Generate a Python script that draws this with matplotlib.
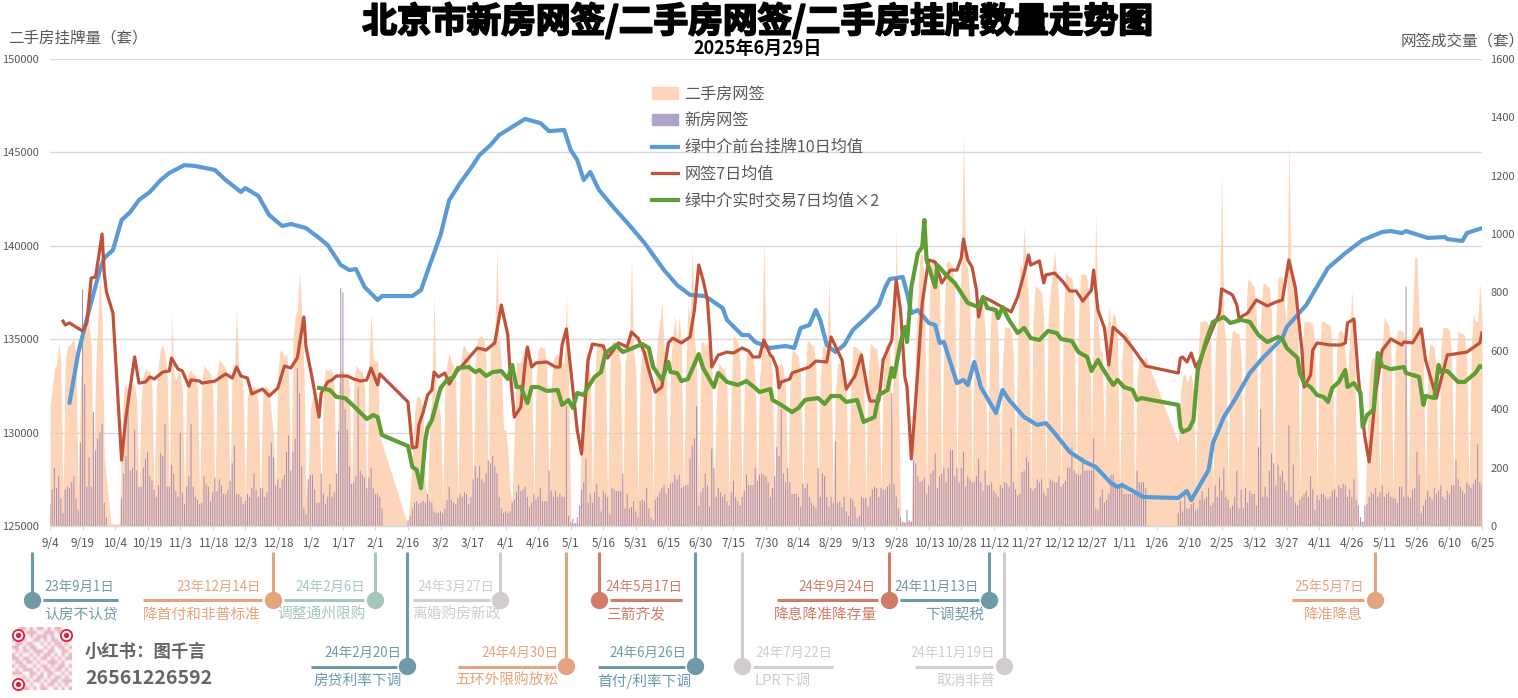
import numpy as np
import matplotlib
matplotlib.use("Agg")
import matplotlib.pyplot as plt
import matplotlib.patheffects as pe
from matplotlib.lines import Line2D
from matplotlib.patches import Patch

plt.rcParams['font.family'] = ['Noto Sans CJK SC', 'DejaVu Sans']

N = None

tick_labels = ['9/4', '9/19', '10/4', '10/19', '11/3', '11/18', '12/3', '12/18', '1/2', '1/17', '2/1', '2/16',
               '3/2', '3/17', '4/1', '4/16', '5/1', '5/16', '5/31', '6/15', '6/30', '7/15', '7/30', '8/14', '8/29',
               '9/13', '9/28', '10/13', '10/28', '11/12', '11/27', '12/12', '12/27', '1/11', '1/26', '2/10', '2/25',
               '3/12', '3/27', '4/11', '4/26', '5/11', '5/26', '6/10', '6/25']

# daily second-hand signings, one row per week (sets, right axis), None = no data
second_hand = [
    410, 470, 540, 550, 630, 560, 90,
    560, 615, 620, 630, 640, 580, 100,
    480, 620, 680, 700, 690, 620, 110,
    520, 700, 870, 700, 240, N, N,
    10, 8, 8, 8, 8, 300, 470,
    490, 430, 470, 490, 480, 430, 100,
    430, 520, 540, 530, 530, 470, 100,
    470, 560, 610, 620, 590, 520, 110,
    735, 530, 500, 530, 520, 460, 100,
    480, 530, 535, 520, 520, 470, 90,
    500, 550, 540, 530, 520, 470, 90,
    520, 570, 560, 550, 540, 480, 100,
    560, 540, 750, 520, 530, 470, 100,
    440, 480, 470, 480, 470, 420, 80,
    440, 480, 475, 470, 380, 310, 120,
    520, 600, 600, 580, 590, 520, 110,
    640, 720, 740, 870, 740, 560, 90,
    180, 400, 440, 445, 430, 390, 90,
    470, 540, 530, 540, 530, 470, 90,
    480, 535, 530, 520, 530, 470, 90,
    500, 550, 540, 530, 530, 470, 90,
    560, 730, 570, 560, 570, 308, N,
    N, N, N, N, N, N, N,
    N, N, N, N, 0, 110, 250,
    380, 445, 445, 430, 400, 130, 90,
    380, 430, 790, 430, 420, 370, 90,
    470, 560, 595, 560, 550, 490, 90,
    520, 610, 620, 600, 590, 530, 100,
    560, 640, 650, 650, 640, 570, 100,
    620, 640, 660, 950, 640, 560, 330,
    330, 260, 130, 80, 330, 560, 560,
    560, 590, 610, 616, 616, 540, 100,
    500, 600, 616, 610, 610, 540, 100,
    480, 570, 590, 585, 580, 560, 560,
    790, 500, 15, 10, 10, 10, 10,
    380, 480, 595, 590, 520, 100, 500,
    630, 620, 630, 610, 540, 100, 540,
    635, 630, 630, 620, 550, 100, 560,
    600, 605, 920, 600, 530, 100, 520,
    615, 610, 610, 600, 530, 100, 520,
    640, 700, 765, 620, 550, 100, 560,
    650, 720, 640, 720, 620, 100, 520,
    765, 700, 950, 640, 560, 100, 630,
    630, 620, 630, 600, 530, 100, 400,
    560, 550, 540, 540, 480, 100, 480,
    660, 640, 630, 560, 100, 480, 595,
    595, 590, 580, 510, 100, 500, 590,
    980, 590, 590, 580, 510, 100, 450,
    550, 557, 540, 480, 100, 480, 600,
    600, 590, 580, 510, 100, 500, 637,
    630, 620, 620, 540, 100, 500, 615,
    620, 600, 842, 540, 100, 460, 557,
    557, 545, 540, 480, 100, 480, 615,
    615, 610, 600, 600, 530, 100, 500,
    625, 620, 610, 610, 540, 120, 500,
    620, 620, 610, 350, 600, 1025, 500,
    15, 15, 15, 15, 15, 15, 400,
    620, 800, 930, 934, 820, 120, 700,
    910, 920, 910, 900, 800, 120, 700,
    900, 910, 900, 890, 800, 120, 750,
    900, 1345, 900, 880, 780, 120, 650,
    785, 770, 780, 760, 670, 120, 600,
    763, 750, 740, 650, 120, 560, 683,
    680, 683, 670, 590, 120, 650, 900,
    880, 1025, 880, 770, 120, 700, 820,
    820, 810, 800, 710, 120, 700, 800,
    870, 940, 860, 760, 120, 700, 865,
    860, 850, 850, 750, 120, 700, 865,
    860, 865, 850, 750, 300, 700, 1070,
    700, 600, 600, 250, 650, 750, 680,
    728, 720, 640, 120, 560, 670, 660,
    650, 640, 570, 110, 500, 580, 575,
    570, 580, N, N, N, N, N,
    N, N, N, N, N, N, N,
    N, N, 283, 450, 510, 523, 490,
    510, 520, 460, 120, 560, 700, 700,
    705, 700, 690, 610, 120, 600, 705,
    700, 1220, 700, 620, 120, 600, 670,
    670, 660, 660, 580, 120, 700, 843,
    843, 830, 820, 720, 120, 700, 830,
    830, 820, 820, 720, 120, 700, 855,
    855, 850, 750, 700, 1333, 850, 850,
    840, 740, 120, 600, 705, 700, 700,
    700, 690, 610, 120, 600, 700, 700,
    695, 690, 690, 610, 120, 600, 670,
    670, 660, 580, 500, 650, 808, 650,
    300, 15, 15, 15, 15, 300, 500,
    570, 580, 560, 490, 120, 620, 717,
    700, 690, 610, 120, 600, 670, 670,
    670, 660, 580, 120, 600, 720, 920,
    922, 700, 660, 580, 120, 560, 625,
    620, 610, 540, 120, 600, 683, 680,
    680, 670, 590, 120, 580, 670, 660,
    660, 650, 570, 120, 600, 730, 700,
    700, 831, 700,
]

# daily new-home signings, same layout
new_home = [
    75, 125, 200, 130, 170, 95, 45,
    125, 135, 130, 150, 170, 95, 55,
    285, 810, 485, 135, 235, 135, 390,
    260, 300, 320, 350, 80, 30, N,
    N, N, N, N, N, 95, 180,
    240, 470, 190, 200, 330, 190, 135,
    135, 200, 230, 255, 170, 155, 125,
    100, 140, 250, 240, 350, 135, 135,
    210, 180, 120, 100, 320, 115, 75,
    135, 170, 350, 135, 100, 90, 75,
    80, 170, 145, 135, 85, 115, 165,
    120, 160, 140, 110, 110, 125, 155,
    215, 275, 110, 110, 100, 75, 85,
    110, 100, 130, 180, 125, 100, 130,
    130, 100, 115, 240, 285, 235, 140,
    160, 130, 160, 175, 255, 310, 190,
    255, 300, 540, 455, 205, 60, 40,
    160, 175, 175, 125, 80, 80, 180,
    110, 75, 100, 145, 100, 115, 180,
    325, 815, 800, 400, 330, 205, 145,
    150, 170, 475, 190, 175, 165, 130,
    165, 200, 130, 110, 110, 100, 60,
    N, N, N, N, N, N, N,
    N, N, N, N, 20, 35, 60,
    80, 85, 75, 80, 85, 80, 110,
    85, 80, 50, 45, 45, 50, 45,
    60, 90, 135, 90, 80, 75, 95,
    110, 100, 115, 110, 75, 100, 160,
    205, 165, 205, 160, 150, 180, 225,
    215, 240, 205, 180, 100, 60, 45,
    50, 45, 50, 80, 90, 115, 140,
    120, 125, 135, 100, 65, 80, 110,
    90, 100, 130, 85, 85, 85, 190,
    120, 100, 120, 100, 110, 100, 100,
    410, 35, 15, 25, 10, 30, 70,
    125, 150, 230, 80, 110, 80, 115,
    145, 100, 50, 120, 110, 100, 40,
    130, 125, 120, 120, 120, 180, 60,
    110, 60, 65, 85, 50, 30, 85,
    90, 85, 130, 60, 30, 20, 90,
    100, 115, 130, 140, 110, 130, 145,
    150, 175, 160, 175, 130, 135, 140,
    140, 230, 275, 300, 410, 70, 115,
    130, 180, 140, 65, 265, 200, 100,
    130, 115, 100, 110, 85, 70, 115,
    155, 100, 85, 70, 100, 120, 175,
    140, 140, 140, 200, 155, 175, 180,
    175, 170, 150, 100, 130, 170, 270,
    240, 400, 180, 150, 200, 150, 110,
    110, 110, 100, 65, 145, 130, 145,
    100, 80, 70, 60, 200, 100, 180,
    170, 100, 65, 100, 80, 290, 80,
    85, 65, 100, 50, 35, 95, 90,
    65, 25, 35, 100, 95, 95, 65,
    100, 125, 135, 130, 100, 130, 125,
    125, 135, 145, 455, 145, 100, 60,
    30, 15, 10, 55, 20, 15, 225,
    215, 170, 150, 155, 165, 110, 140,
    180, 190, 250, 130, 170, 180, 200,
    150, 200, 260, 260, 170, 200, 150,
    200, 255, 135, 170, 160, 150, 150,
    170, 230, 150, 120, 190, 140, 140,
    150, 120, 110, 100, 140, 130, 150,
    145, 135, 335, 150, 125, 105, 110,
    185, 190, 235, 220, 130, 120, 130,
    160, 150, 160, 115, 105, 130, 160,
    155, 150, 150, 170, 135, 145, 155,
    200, 200, 270, 190, 180, 175, 175,
    235, 190, 190, 190, 190, 300, 60,
    55, 100, 125, 80, 90, 110, 175,
    175, 150, 135, 130, 150, 110, 110,
    110, 110, 110, 110, 190, 150, 150,
    150, 130, N, N, N, N, N,
    N, N, N, N, N, N, N,
    N, N, 45, 85, 50, 125, 60,
    60, 75, 80, 55, 60, 90, 120,
    90, 100, 130, 70, 80, 140, 100,
    165, 120, 200, 100, 90, 60, 70,
    100, 190, 60, 125, 60, 130, 80,
    120, 110, 110, 70, 270, 400, 100,
    135, 100, 190, 250, 215, 140, 210,
    170, 190, 150, 120, 345, 100, 210,
    80, 70, 90, 100, 110, 120, 100,
    170, 125, 55, 105, 90, 110, 110,
    100, 90, 100, 120, 125, 100, 140,
    130, 145, 140, 100, 125, 100, 160,
    90, 70, 30, 15, 70, 75, 100,
    115, 110, 130, 100, 115, 140, 100,
    110, 115, 100, 95, 95, 80, 135,
    135, 100, 820, 100, 95, 125, 130,
    255, 175, 45, 70, 90, 120, 100,
    90, 130, 110, 120, 140, 100, 90,
    120, 110, 140, 140, 225, 160, 135,
    120, 110, 150, 140, 130, 145, 160,
    280, 150, 140,
]

# listings 10-day mean, left axis
listing_days = [9, 13, 18, 23, 25, 29, 33, 37, 41, 46, 51, 55, 62, 67, 76, 81, 88, 90, 96, 101, 107, 111, 118, 124,
                128, 134, 138, 141, 145, 151, 153, 167, 171, 175, 180, 184, 189, 194, 198, 203, 207, 213, 219, 226,
                230, 237, 240, 243, 246, 249, 253, 260, 267, 274, 283, 289, 295, 302, 310, 312, 319, 322, 325, 332,
                339, 343, 346, 350, 353, 355, 358, 362, 366, 370, 376, 382, 385, 387, 393, 395, 397, 400, 405, 408,
                410, 412, 418, 421, 423, 426, 429, 436, 439, 442, 449, 455, 459, 463, 470, 477, 482, 489, 492, 494,
                504, 520, 524, 526, 534, 536, 541, 546, 553, 559, 568, 570, 579, 589, 597, 605, 614, 618, 623, 625,
                635, 643, 644, 651, 653, 660]
listing_vals = [131580, 134260, 136560, 138700, 139350, 139770, 141380, 141810, 142450, 142880, 143520, 143900,
                144320, 144270, 144060, 143520, 142880, 143090, 142670, 141650, 141060, 141170, 140950, 140420,
                140040, 138970, 138700, 138760, 137790, 137100, 137310, 137310, 137630, 138970, 140580, 142450,
                143360, 144160, 144860, 145390, 145930, 146360, 146790, 146570, 146140, 146200, 145130, 144590,
                143520, 143950, 142990, 142020, 141110, 140150, 138700, 137900, 137370, 137310, 136670, 136030,
                135220, 135220, 134850, 134530, 134640, 134530, 135600, 135760, 136560, 136030, 134690, 134310,
                134690, 135490, 136130, 136830, 137790, 138220, 138330, 137470, 136400, 136560, 135870, 135760,
                134800, 134850, 132650, 132820, 132550, 133780, 132440, 131050, 132280, 131750, 130830, 130410,
                130510, 129980, 128960, 128430, 128160, 127300, 127090, 127200, 126550, 126500, 126870, 126390,
                128000, 129440, 130830, 131750, 133190, 134000, 135060, 135650, 136830, 138810, 139610, 140310,
                140740, 140790, 140680, 140790, 140420, 140470, 140360, 140260, 140680, 140950]

# signing 7-day mean, read against the left axis gridlines
signing_days = [6, 7, 9, 12, 15, 17, 19, 21, 24, 25, 26, 29, 33, 35, 39, 41, 44, 46, 48, 52, 55, 56, 59, 61, 64, 65,
                69, 70, 76, 81, 84, 86, 88, 91, 93, 98, 101, 105, 108, 111, 114, 117, 118, 121, 124, 125, 128, 130,
                132, 137, 140, 143, 146, 148, 151, 152, 165, 167, 169, 170, 172, 174, 176, 177, 179, 182, 184, 187,
                193, 197, 201, 205, 208, 211, 212, 214, 217, 219, 220, 222, 224, 229, 233, 235, 236, 238, 241, 243,
                245, 248, 250, 255, 257, 262, 266, 268, 271, 274, 276, 279, 282, 285, 287, 291, 295, 297, 299, 301,
                303, 304, 305, 308, 312, 315, 319, 322, 324, 327, 329, 332, 333, 335, 336, 337, 341, 342, 350, 353,
                358, 360, 365, 367, 371, 374, 377, 378, 382, 384, 388, 390, 392, 394, 395, 397, 400, 402, 405, 408,
                411, 415, 418, 420, 421, 423, 425, 427, 428, 430, 433, 439, 443, 446, 449, 451, 452, 456, 458, 459,
                463, 467, 470, 473, 476, 480, 481, 483, 486, 488, 490, 495, 499, 505, 520, 521, 522, 524, 526, 528,
                530, 536, 539, 540, 541, 545, 547, 548, 552, 556, 561, 565, 568, 571, 574, 577, 578, 581, 582, 584,
                590, 595, 597, 598, 601, 603, 606, 608, 611, 614, 618, 623, 624, 628, 632, 634, 639, 644, 653, 659,
                660]
signing_vals = [135970, 135760, 135870, 135650, 135440, 135870, 138280, 138330, 140630, 138540, 137530, 136400,
                128530, 130830, 134050, 132650, 132710, 132980, 132870, 133240, 133300, 133990, 133400, 133300,
                132490, 132820, 132760, 132650, 132760, 133140, 132920, 133510, 133030, 132920, 132070, 132330,
                131960, 132390, 133560, 133460, 134000, 136190, 134580, 132820, 130830, 132120, 132710, 132820,
                133030, 133030, 132870, 132760, 132820, 133460, 132550, 133140, 131640, 129180, 129230, 130410,
                131100, 132010, 132280, 133240, 132980, 133190, 132600, 133190, 133990, 134530, 134420, 134800,
                136830, 135220, 133350, 130830, 131370, 133730, 134580, 133510, 133730, 133780, 133510, 133510,
                134690, 135550, 132280, 130140, 128850, 133890, 134740, 134640, 133990, 134800, 134580, 135380,
                135060, 134260, 133350, 132170, 132440, 134800, 135060, 134800, 135120, 136560, 138970, 138170,
                137100, 135490, 133510, 134150, 134310, 134260, 134530, 134370, 134050, 134050, 134960, 134150,
                134050, 133460, 132390, 132710, 132870, 133190, 133510, 133830, 133780, 135120, 133890, 132330,
                133030, 134150, 132120, 131690, 131690, 133890, 134960, 138170, 136560, 132980, 132440, 128590,
                133350, 136940, 139240, 139130, 138010, 138700, 138700, 139350, 140360, 139240, 138860, 137630,
                136190, 137260, 137100, 136720, 136460, 137260, 138540, 139510, 138970, 139190, 138010, 138440,
                138540, 138060, 137580, 137580, 137040, 137630, 138700, 136560, 135600, 133620, 135650, 135120,
                134530, 133560, 133190, 133990, 134050, 133780, 134260, 133510, 133890, 135600, 136400, 137690,
                137630, 137370, 136830, 136130, 136400, 137100, 136780, 136990, 137100, 139240, 137740, 134420,
                132440, 133080, 134420, 134800, 134690, 134690, 134800, 135870, 136080, 132980, 129760, 128430,
                132120, 134420, 135010, 134690, 134850, 134800, 135550, 133890, 131850, 134150, 134310, 134800,
                135330]

# agency real-time deals 7-day mean x2, read against the left axis gridlines
agency_days = [124, 129, 132, 136, 140, 146, 149, 151, 153, 165, 167, 169, 171, 173, 174, 176, 180, 183, 186, 188,
               193, 196, 198, 201, 204, 208, 211, 213, 215, 217, 220, 222, 225, 229, 234, 236, 239, 241, 243, 246,
               248, 251, 254, 256, 261, 264, 273, 276, 278, 282, 285, 286, 289, 291, 294, 299, 301, 306, 308, 312,
               317, 321, 325, 327, 332, 333, 337, 342, 345, 348, 354, 357, 360, 364, 367, 372, 375, 380, 382, 386,
               388, 389, 392, 394, 395, 397, 400, 402, 403, 404, 408, 409, 413, 417, 423, 428, 430, 432, 436, 437,
               439, 442, 446, 449, 452, 456, 460, 464, 466, 471, 474, 478, 480, 483, 485, 490, 492, 495, 499, 501,
               503, 520, 521, 522, 525, 527, 529, 533, 536, 541, 544, 549, 553, 557, 561, 566, 568, 570, 575, 576,
               578, 581, 584, 587, 589, 591, 594, 597, 598, 601, 604, 605, 607, 610, 612, 614, 618, 624, 625, 631,
               633, 634, 638, 640, 641, 644, 649, 652, 657, 659, 660]
agency_vals = [132390, 132280, 131910, 131850, 131420, 130730, 130940, 130830, 129870, 129280, 128160, 128000,
               127030, 129600, 130250, 130670, 132390, 132820, 132980, 133460, 133510, 133240, 133350, 133030,
               133240, 133300, 132870, 133620, 132440, 132440, 131580, 132440, 132440, 132230, 132280, 131480,
               131740, 131320, 132120, 132010, 132440, 132980, 133240, 134260, 134690, 134310, 134740, 134530,
               133510, 132820, 133780, 133240, 133190, 132760, 132870, 134200, 133460, 132440, 133190, 132710,
               132550, 132760, 132390, 132170, 132330, 131750, 131480, 131100, 131320, 131750, 131850, 131530,
               131960, 131960, 131640, 131750, 130570, 130830, 132010, 132280, 133460, 132980, 134800, 135650,
               134850, 137790, 139610, 139930, 141380, 139240, 137790, 138970, 138440, 138010, 136940, 136720,
               137260, 136670, 136560, 136130, 136720, 136030, 135330, 135600, 135060, 134960, 135440, 135330,
               135010, 134900, 134310, 134050, 133300, 133890, 133460, 132550, 132820, 132440, 132280, 131750,
               131850, 131480, 130300, 130030, 130190, 130670, 133350, 134960, 135920, 136190, 135870, 136030,
               135920, 135220, 134850, 135120, 135010, 134530, 134000, 133190, 132650, 132440, 132010, 131910,
               131640, 132390, 132710, 133350, 132440, 132650, 132120, 130300, 130940, 131210, 134260, 133560,
               133400, 133510, 133190, 132980, 131480, 131960, 131850, 133620, 133240, 133300, 132710, 132710,
               133190, 133560, 133510]

left_ticks = list(range(125000, 150001, 5000))


def to_right(vals):
    # left axis gridlines (125000-150000) to the right axis scale (0-1600)
    return (np.array(vals, dtype=float) - 125000) * 1600 / 25000


W, H = 1518, 698
fig = plt.figure(figsize=(W / 100, H / 100), dpi=100)
rect = [50 / W, 1 - 526 / H, (1482 - 50) / W, (526 - 59) / H]

# bottom layer: signings on the right axis
ax = fig.add_axes(rect)
second = np.array(second_hand, dtype=float)
new = np.array(new_home, dtype=float)
d2 = np.arange(len(second))
d1 = np.arange(len(new))
for v in left_ticks:
    ax.axhline(to_right(v), color='#d9d9d9', lw=1, zorder=0)
ok = np.isfinite(second)
ax.fill_between(d2[ok], second[ok], color='#fdcfae', alpha=0.85, lw=0, zorder=1)
ok = np.isfinite(new)
bars = ax.bar(d1[ok], new[ok], width=0.46, color='#a88db0', lw=0, zorder=2)
for b in bars:
    b.set_snap(False)
ax.set_xlim(0, 660)
ax.set_ylim(0, 1600)
ax.set_xticks(np.arange(0, 661, 15))
ax.set_xticklabels(tick_labels)
ax.tick_params(axis='x', length=3, color='#d9d9d9', labelsize=8.4, labelcolor='#595959', pad=5)
for s in ['top', 'left', 'right']:
    ax.spines[s].set_visible(False)
ax.spines['bottom'].set_color('#d9d9d9')
ax.spines['bottom'].set_linewidth(1)

# listings on the left axis
ax_l = ax.twinx()
ax_l.patch.set_visible(False)
ax_l.set_ylim(125000, 150000)
ax_l.set_yticks(left_ticks)
ax_l.yaxis.tick_left()
ax_l.tick_params(axis='y', length=0, labelsize=8, labelcolor='#595959', pad=8)
for s in ax_l.spines.values():
    s.set_visible(False)
ax_l.plot(listing_days, listing_vals, color='#5b9bd5', lw=3.0, solid_joinstyle='round', solid_capstyle='round')

# signing lines back on the right scale, on top of the blue one
ax_t = ax.twinx()
ax_t.patch.set_visible(False)
ax_t.set_ylim(0, 1600)
ax_t.set_yticks(range(0, 1601, 200))
ax_t.yaxis.tick_right()
ax_t.tick_params(axis='y', length=0, labelsize=8, labelcolor='#595959', pad=6)
for s in ax_t.spines.values():
    s.set_visible(False)
ax_t.plot(signing_days, to_right(signing_vals), color='#c0513a', lw=2.3, solid_joinstyle='round')
ax_t.plot(agency_days, to_right(agency_vals), color='#5f9e35', lw=3.0, solid_joinstyle='round')
ax.yaxis.set_visible(False)

handles = [Patch(color='#fdd6ba'), Patch(color='#ada3c8'),
           Line2D([], [], color='#5b9bd5', lw=3), Line2D([], [], color='#c0513a', lw=2.3),
           Line2D([], [], color='#5f9e35', lw=3)]
names = ['二手房网签', '新房网签', '绿中介前台挂牌10日均值', '网签7日均值', '绿中介实时交易7日均值×2']
fig.legend(handles, names, loc='upper left', bbox_to_anchor=(637 / W, 1 - 71 / H), frameon=False, fontsize=11.6,
           labelcolor='#595959', handlelength=1.62, handletextpad=0.43, labelspacing=0.61, borderpad=0.4)

# page-level texts and the event strip are laid out in pixels
pg = fig.add_axes([0, 0, 1, 1], zorder=10)
pg.set_xlim(0, W)
pg.set_ylim(H, 0)
pg.axis('off')

pg.text(758, 21, '北京市新房网签/二手房网签/二手房挂牌数量走势图', ha='center', va='center', fontsize=25,
        fontweight='bold', color='black', path_effects=[pe.withStroke(linewidth=1.4, foreground='black')])
pg.text(758, 48, '2025年6月29日', ha='center', va='center', fontsize=13, fontweight='bold', color='black')
pg.text(8, 39, '二手房挂牌量（套）', ha='left', va='center', fontsize=11.2, color='#595959')
pg.text(1525, 41, '网签成交量（套）', ha='right', va='center', fontsize=11.2, color='#595959')

TEAL = '#6f9aa8'
ORANGE = '#e3a47f'
RED = '#cf7c68'
MINT = '#a5c8b6'
GREY = '#d3cccc'


def event(xm, row, x0, x1, date, label, col, side, tx_date, tx_label):
    # row 0 sits at y=600, row 1 at y=666; the stem always starts under the x axis
    y = 600 if row == 0 else 666
    pg.plot([xm, xm], [552, y], color=col, lw=2.2, solid_capstyle='butt')
    pg.plot([x0, x1], [y + (0 if row == 0 else 1)] * 2, color=col, lw=2.2, solid_capstyle='butt')
    pg.plot([xm], [y], 'o', ms=12.5, color=col, mec='none')
    pg.text(tx_date, y - 13, date, ha=side, va='center', fontsize=9.6, color=col)
    pg.text(tx_label, y + 15, label, ha=side, va='center', fontsize=10.6, color=col)


event(32, 0, 43, 118, '23年9月1日', '认房不认贷', TEAL, 'left', 44, 44)
event(273, 0, 143, 262, '23年12月14日', '降首付和非普标准', ORANGE, 'right', 261, 261)
event(375, 0, 284, 364, '24年2月6日', '调整通州限购', MINT, 'right', 365, 366)
event(500, 0, 413, 490, '24年3月27日', '离婚购房新政', GREY, 'left', 417, 412)
event(407, 1, 311, 397, '24年2月20日', '房贷利率下调', TEAL, 'right', 401, 402)
event(566, 1, 458, 556, '24年4月30日', '五环外限购放松', ORANGE, 'right', 558, 558)
event(599, 0, 610, 682, '24年5月17日', '三箭齐发', RED, 'left', 605, 606)
event(695, 1, 598, 685, '24年6月26日', '首付/利率下调', TEAL, 'right', 686, 691)
event(742, 1, 753, 833, '24年7月22日', 'LPR下调', GREY, 'left', 755, 755)
event(889, 0, 777, 878, '24年9月24日', '降息降准降存量', RED, 'right', 876, 877)
event(989, 0, 900, 979, '24年11月13日', '下调契税', TEAL, 'right', 979, 984)
event(1004, 1, 915, 993, '24年11月19日', '取消非普', GREY, 'right', 995, 995)
event(1375, 0, 1292, 1364, '25年5月7日', '降准降息', ORANGE, 'right', 1364, 1363)

# QR-code style badge
qr_rows = ['00110101101011000', '00101110011101000', '00010101110100100', '10110011010110101', '01101100101011010',
           '11010110010101101', '01011011101100110', '10100101011010101', '11011010110101011', '01101101001110100',
           '10110010110101101', '01011101011011010', '11100110101100101', '00010101101011010', '00101011010110111',
           '00110100101101010', '00011010110010101']
qr = np.array([[int(c) for c in r] for r in qr_rows], dtype=float)
qr_img = np.ones(qr.shape + (3,))
qr_img[qr > 0] = matplotlib.colors.to_rgb('#e8b4c2')
pg.imshow(qr_img, extent=(12, 72, 690, 627), interpolation='bilinear', aspect='auto', zorder=2)
pg.set_xlim(0, W)
pg.set_ylim(H, 0)
for qx, qy in [(18, 635), (66, 635), (18, 684)]:
    pg.plot([qx], [qy], 'o', ms=9.4, color='#e0203a', mec='none', zorder=3)
    pg.plot([qx], [qy], 'o', ms=6.8, color='white', mec='none', zorder=3)
    pg.plot([qx], [qy], 'o', ms=3.8, color='#e0203a', mec='none', zorder=3)
pg.text(85, 652, '小红书：图千言', ha='left', va='center', fontsize=12.5, fontweight='bold', color='#666666')
pg.text(85, 678, '26561226592', ha='left', va='center', fontsize=14, fontweight='bold', color='#666666')

fig.savefig('out.png', dpi=100)
